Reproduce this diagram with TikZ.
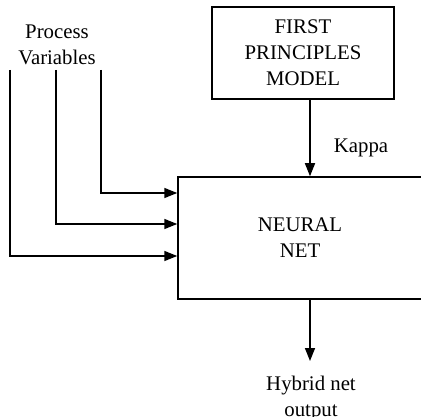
\documentclass[tikz,border=0pt]{standalone}
\usepackage{fontspec}
\setmainfont{Liberation Serif}
\usetikzlibrary{positioning,arrows.meta}

\tikzset{
  blk/.style={draw, line width=1.5pt, align=center, inner sep=0pt},
  flow/.style={line width=1.5pt, -{Triangle[length=13pt,width=10pt]}},
}

\begin{document}
\begin{tikzpicture}[x=1pt, y=-1pt, font=\fontsize{20.8}{26}\selectfont]
    \path[use as bounding box, clip] (0,0) rectangle (421,417);
    \node[blk, minimum width=182pt, minimum height=92pt] (fpm) at (303,53) {FIRST\\PRINCIPLES\\MODEL};
    \node[blk, minimum width=244pt, minimum height=122pt] (nn) at (300,238) {NEURAL\\NET};
    \node[align=center] (pv) at (57,45) {Process\\Variables};
    \node (kappa) at (361,148) {Kappa};
    \coordinate (hy) at (310,361);
    \node[align=center, anchor=north, inner sep=0pt] (out) at (311,376) {Hybrid net\\output};
    \draw[flow] (fpm.south -| hy) -- (nn.north -| hy);
    \draw[flow] (nn.south -| hy) -- (hy);
    \foreach \x/\dy in {10/-18, 56/14, 101/45}
      \draw[flow] (\x,70) |- ([yshift=\dy pt]nn.west);
  \end{tikzpicture}
\end{document}
